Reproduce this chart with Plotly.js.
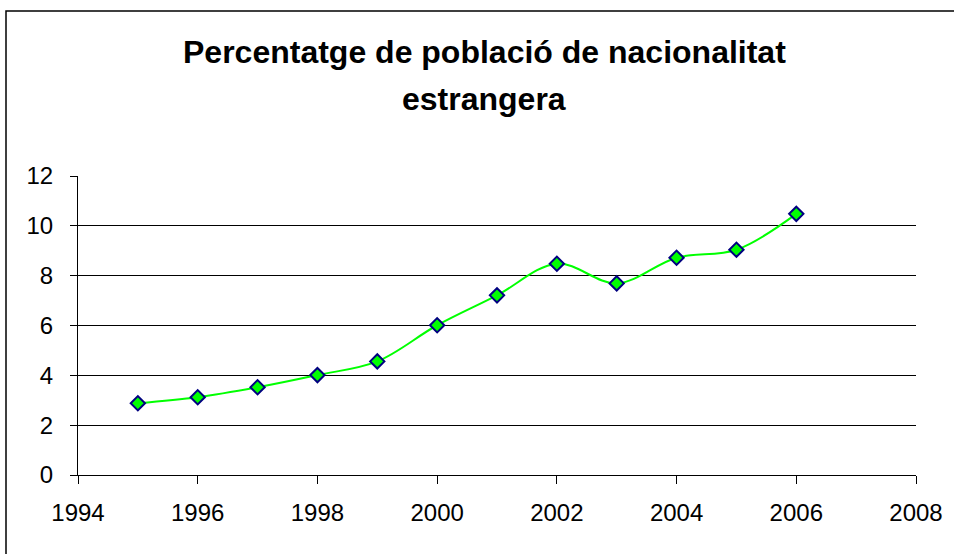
<!DOCTYPE html>
<html>
<head>
<meta charset="utf-8">
<script src="https://cdn.plot.ly/plotly-3.0.1.min.js"></script>
<style>html,body{margin:0;padding:0;background:#fff;}#chart{width:954px;height:554px;}</style>
</head>
<body>
<div id="chart"></div>
<script>
const years = [1995, 1996, 1997, 1998, 1999, 2000, 2001, 2002, 2003, 2004, 2005, 2006];
const percentages = [2.88, 3.12, 3.52, 4.01, 4.56, 6.01, 7.21, 8.48, 7.69, 8.72, 9.04, 10.48];
const xTicks = [1994, 1996, 1998, 2000, 2002, 2004, 2006, 2008];
const yTicks = [0, 2, 4, 6, 8, 10, 12];
const titleLine1 = 'Percentatge de població de nacionalitat';
const titleLine2 = 'estrangera';

const trace = {
  x: years,
  y: percentages,
  type: 'scatter',
  mode: 'lines+markers',
  line: {color: '#00ff00', width: 2, shape: 'spline', smoothing: 1},
  marker: {symbol: 'diamond', size: 11, color: '#00ff00', line: {color: '#000080', width: 2}},
  hoverinfo: 'x+y'
};

const titleFont = {family: 'Liberation Sans, Arial, sans-serif', size: 32, color: '#000000', weight: 'bold'};

const layout = {
  width: 954,
  height: 554,
  margin: {l: 78, r: 38, t: 176, b: 79},
  paper_bgcolor: '#ffffff',
  plot_bgcolor: '#ffffff',
  showlegend: false,
  font: {family: 'Liberation Sans, Arial, sans-serif', color: '#000000', size: 24},
  xaxis: {
    range: [1994, 2008],
    tickvals: xTicks,
    ticktext: xTicks.map(String),
    showgrid: false,
    zeroline: false,
    showline: true,
    linecolor: '#000000',
    linewidth: 1,
    ticks: 'outside',
    ticklen: 8,
    tickcolor: '#000000',
    tickfont: {size: 24},
    ticklabelstandoff: 8,
    fixedrange: true
  },
  yaxis: {
    range: [0, 12],
    tickvals: yTicks,
    showgrid: true,
    gridcolor: '#000000',
    gridwidth: 1,
    zeroline: false,
    showline: true,
    linecolor: '#000000',
    linewidth: 1,
    ticks: 'outside',
    ticklen: 7,
    tickcolor: '#000000',
    tickfont: {size: 24},
    ticklabelstandoff: 12,
    fixedrange: true
  },
  annotations: [
    {text: titleLine1, xref: 'paper', yref: 'paper', x: 0.4845, y: (475 - 63) / 299,
     xanchor: 'center', yanchor: 'bottom', showarrow: false, font: titleFont, yshift: -9},
    {text: titleLine2, xref: 'paper', yref: 'paper', x: 0.4845, y: (475 - 107) / 299,
     xanchor: 'center', yanchor: 'bottom', showarrow: false, font: titleFont, yshift: -12}
  ],
  shapes: [{
    type: 'rect', xref: 'paper', yref: 'paper',
    x0: (6 - 78) / 838, x1: (962 - 78) / 838,
    y0: (475 - 562) / 299, y1: (475 - 11) / 299,
    line: {color: '#000000', width: 1.5}, fillcolor: 'rgba(0,0,0,0)', layer: 'below'
  }]
};

Plotly.newPlot('chart', [trace], layout, {displayModeBar: false, staticPlot: true});
</script>
</body>
</html>
